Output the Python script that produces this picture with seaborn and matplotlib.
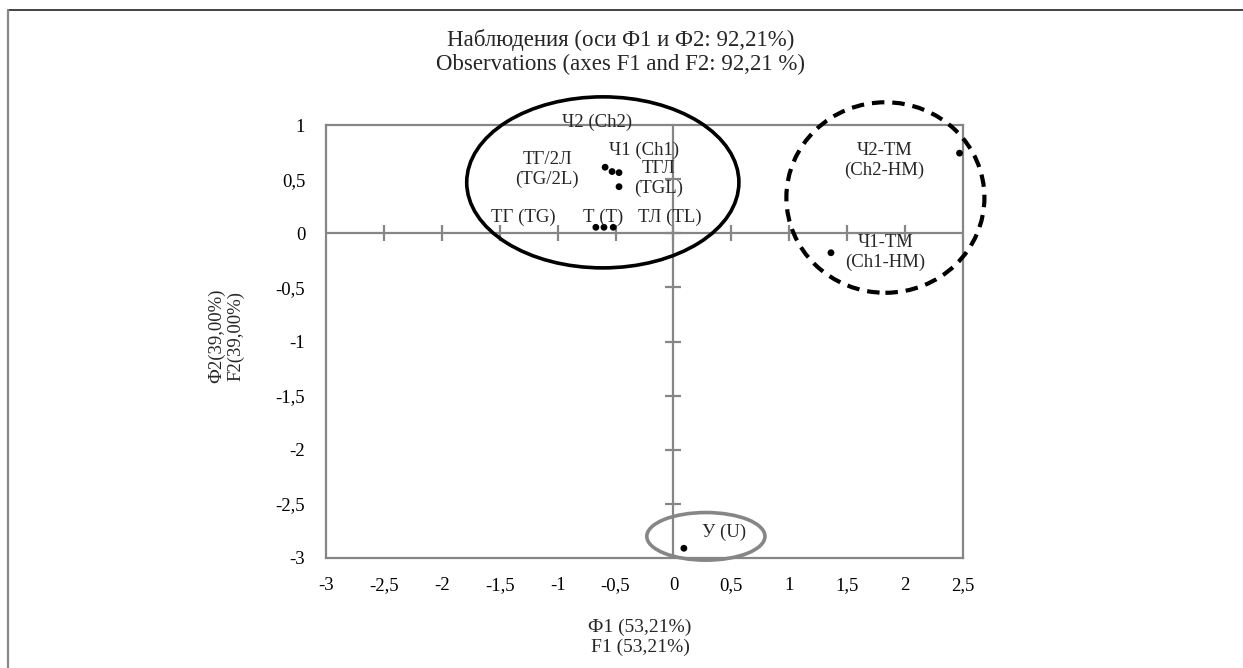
import matplotlib
matplotlib.use("Agg")
import matplotlib.pyplot as plt
from matplotlib.patches import Ellipse
from matplotlib.lines import Line2D
import seaborn as sns
import pandas as pd
import numpy as np

# ---- data ----
obs_f1 = [-0.59, -0.53, -0.47, -0.47, -0.67, -0.60, -0.52, 2.47, 1.36, 0.09]
obs_f2 = [0.61, 0.57, 0.56, 0.43, 0.055, 0.055, 0.055, 0.74, -0.18, -2.91]

label_texts = ["Ч2 (Ch2)", "Ч1 (Ch1)", "ТГ/2Л\n(TG/2L)", "ТГЛ\n(TGL)", "ТГ (TG)",
               "Т (Т)", "ТЛ (TL)", "Ч2-ТМ\n(Ch2-HM)", "Ч1-ТМ\n(Ch1-HM)", "У (U)"]
label_x = [-0.66, -0.25, -1.09, -0.13, -1.30, -0.61, -0.03, 1.82, 1.83, 0.44]
label_y = [1.02, 0.77, 0.59, 0.51, 0.15, 0.15, 0.15, 0.67, -0.18, -2.76]

x_ticks = [-3, -2.5, -2, -1.5, -1, -0.5, 0, 0.5, 1, 1.5, 2, 2.5]
y_ticks = [-3, -2.5, -2, -1.5, -1, -0.5, 0, 0.5, 1]

title_lines = ["Наблюдения (оси Ф1 и Ф2: 92,21%)", "Observations (axes F1 and F2: 92,21 %)"]
x_label = "Ф1 (53,21%)\nF1 (53,21%)"
y_label = "Ф2(39,00%)\nF2(39,00%)"

def fmt(v):
    return ("%g" % v).replace(".", ",")

# ---- style ----
sns.set_theme(style="white")
plt.rcParams['font.family'] = ['Liberation Serif', 'DejaVu Serif']
GRAY = "#868686"
FS = 13.5

fig = plt.figure(figsize=(12.43, 6.68), dpi=100)
ax = fig.add_axes([326/1243, 1-558/668, (963-326)/1243, (558-125)/668])

df = pd.DataFrame({"F1": obs_f1, "F2": obs_f2})
sns.scatterplot(data=df, x="F1", y="F2", ax=ax, color="black", s=24,
                edgecolor="none", zorder=5, clip_on=False)

ax.set_xlim(-3, 2.5)
ax.set_ylim(-3, 1)
ax.set_xticks(x_ticks)
ax.set_yticks(y_ticks)
ax.set_xticklabels([fmt(v) for v in x_ticks], fontsize=FS)
ax.set_yticklabels([fmt(v) for v in y_ticks], fontsize=FS)
ax.tick_params(axis="x", length=0, pad=14, colors="black")
ax.tick_params(axis="y", length=0, pad=15, colors="black")
ax.set_xlabel("")
ax.set_ylabel("")
for sp in ax.spines.values():
    sp.set_color(GRAY)
    sp.set_linewidth(1.6)
    sp.set_visible(True)

# axis lines through origin with crossing tick marks
ax.axhline(0, color=GRAY, lw=1.6, zorder=1)
ax.axvline(0, color=GRAY, lw=1.6, zorder=1)
inner_x = [v for v in x_ticks if -3 < v < 2.5]
inner_y = [v for v in y_ticks if -3 < v < 1]
ax.plot(inner_x, [0]*len(inner_x), linestyle="none", marker="|", ms=12, mew=1.6, color=GRAY, zorder=1)
ax.plot([0]*len(inner_y), inner_y, linestyle="none", marker="_", ms=12, mew=1.6, color=GRAY, zorder=1)

# point labels
for t, x, y in zip(label_texts, label_x, label_y):
    ax.text(x, y, t, ha="center", va="center", fontsize=FS, linespacing=1.2,
            zorder=6, clip_on=False)

# group ellipses
ax.add_patch(Ellipse((-0.61, 0.47), 2.35, 1.58, fill=False, ec="black", lw=2.6,
                     clip_on=False, zorder=4))
ax.add_patch(Ellipse((1.83, 0.33), 1.71, 1.76, fill=False, ec="black", lw=3,
                     linestyle=(0, (3, 1.9)), clip_on=False, zorder=4))
ax.add_patch(Ellipse((0.28, -2.80), 1.02, 0.44, fill=False, ec=GRAY, lw=2.6,
                     clip_on=False, zorder=4))

# titles and axis labels
fig.text(621/1243, 1-40/668, title_lines[0], ha="center", va="center", fontsize=16.5)
fig.text(621/1243, 1-64/668, title_lines[1], ha="center", va="center", fontsize=16.5)
fig.text(640/1243, 1-637/668, x_label, ha="center", va="center", fontsize=14, linespacing=1.2)
fig.text(226/1243, 1-336/668, y_label, ha="center", va="center", fontsize=13.5,
         rotation=90, linespacing=1.15)

# outer frame
fig.add_artist(Line2D([8/1243, 1], [1-10/668, 1-10/668], transform=fig.transFigure,
                      color="#222222", lw=1.2))
fig.add_artist(Line2D([8/1243, 8/1243], [0, 1-10/668], transform=fig.transFigure,
                      color="#888888", lw=1.6))

fig.savefig("out.png", dpi=100)
